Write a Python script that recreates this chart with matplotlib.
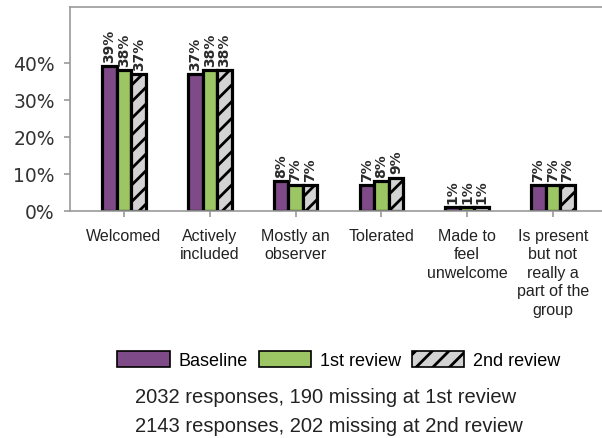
import matplotlib
matplotlib.use("Agg")
import matplotlib.pyplot as plt
import numpy as np
from matplotlib.patches import Patch

categories = ["Welcomed", "Actively\nincluded", "Mostly an\nobserver", "Tolerated",
              "Made to\nfeel\nunwelcome", "Is present\nbut not\nreally a\npart of the\ngroup"]
series_names = ["Baseline", "1st review", "2nd review"]
baseline = [39, 37, 8, 7, 1, 7]
review1 = [38, 38, 7, 8, 1, 7]
review2 = [37, 38, 7, 9, 1, 7]
yticks = [0, 10, 20, 30, 40]
ytick_labels = ["0%", "10%", "20%", "30%", "40%"]
captions = ["2032 responses, 190 missing at 1st review",
            "2143 responses, 202 missing at 2nd review"]

colors = ["#7F4A88", "#9CC563", "#D3D3D3"]
hatches = [None, None, "//"]

plt.rcParams["hatch.linewidth"] = 2.0
plt.rcParams["hatch.color"] = "black"

W, H = 602, 439
fig = plt.figure(figsize=(W / 100, H / 100), dpi=100)
ax = fig.add_axes([70 / W, 1 - 212 / H, (607 - 70) / W, (212 - 8) / H])

x = np.arange(len(categories))
bw = 0.17
offsets = [-bw, 0, bw]
for vals, off, c, h, name in zip([baseline, review1, review2], offsets, colors, hatches, series_names):
    ax.bar(x + off, vals, width=bw, color=c, edgecolor="black", linewidth=2.3,
           hatch=h, label=name, zorder=2)
    for xi, v in zip(x + off, vals):
        ax.annotate(f"{v}%", (xi, v), xytext=(0, 3), textcoords="offset points",
                    rotation=90, ha="center", va="bottom", fontsize=10,
                    fontweight="bold", color="#2a2a2a", family="DejaVu Sans")

ax.set_xlim(-0.63, len(categories) - 1 + 0.63)
ax.set_ylim(0, 55)
ax.set_yticks(yticks)
ax.set_yticklabels(ytick_labels, fontsize=13.5, color="#333333", family="DejaVu Sans")
ax.set_xticks(x)
ax.set_xticklabels(categories, fontsize=11.5, color="#222222", family="Liberation Sans",
                   va="top", ha="center", linespacing=1.3)
for s in ["left", "bottom", "top", "right"]:
    ax.spines[s].set_color("#999999")
    ax.spines[s].set_linewidth(1.2)
ax.tick_params(axis="both", color="#999999", length=4, width=1.2)
ax.tick_params(axis="x", pad=8)
ax.tick_params(axis="y", pad=7)

handles = [Patch(facecolor=c, edgecolor="black", hatch=h, linewidth=1.2) for c, h in zip(colors, hatches)]
fig.legend(handles, series_names, loc="center", bbox_to_anchor=(339 / W, 1 - 361 / H),
           ncol=3, frameon=False, handlelength=2.9, handleheight=1.05,
           handletextpad=0.5, columnspacing=0.6, borderpad=0,
           prop={"family": "Liberation Sans", "size": 13})

fig.text(135 / W, 1 - 398 / H, captions[0], ha="left", va="center", fontsize=14.5,
         family="Liberation Sans", color="#222222")
fig.text(135 / W, 1 - 427 / H, captions[1], ha="left", va="center", fontsize=14.5,
         family="Liberation Sans", color="#222222")

fig.savefig("out.png", dpi=100)
